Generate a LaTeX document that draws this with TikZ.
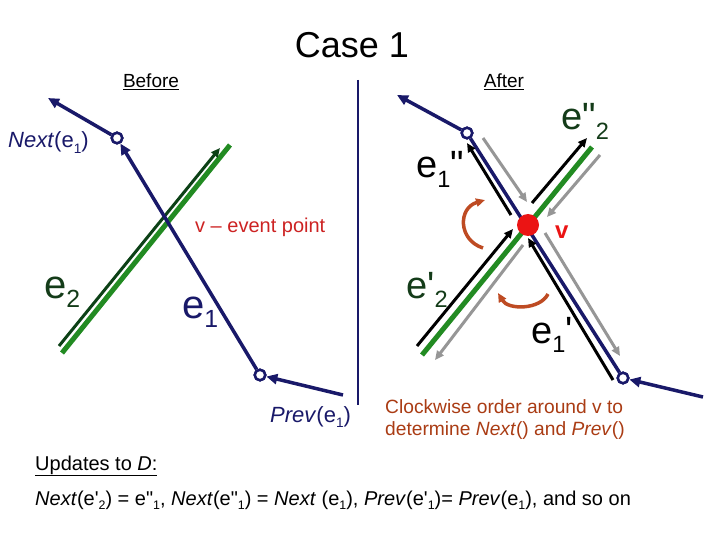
\documentclass[tikz,border=0pt]{standalone}
\usepackage{fontspec}
\usepackage{graphicx}
\setmainfont{Liberation Sans}
\usetikzlibrary{arrows.meta}
\definecolor{navy}{RGB}{25,25,105}
\definecolor{egreen}{RGB}{34,139,34}
\definecolor{dgreen}{RGB}{12,65,22}
\definecolor{lblgreen}{RGB}{20,60,25}
\definecolor{greyarr}{RGB}{150,150,150}
\definecolor{brownarr}{RGB}{190,75,35}
\definecolor{brtext}{RGB}{170,60,20}
\definecolor{vred}{RGB}{235,20,20}
\definecolor{evred}{RGB}{205,35,35}
\newcommand{\sq}{\textquotesingle}
\newcommand{\dq}{\textquotedbl}
\newcommand{\sbs}[1]{\raisebox{-0.24em}{\scalebox{0.62}{#1}}}
\begin{document}
\begin{tikzpicture}[x=1pt,y=-1pt,
  arrtip/.style={-{Triangle[length=9pt,width=8pt]}},
  bigtip/.style={-{Triangle[length=11pt,width=10pt]}},
  navyline/.style={draw=navy,line width=3.5pt},
  greenline/.style={draw=egreen,line width=5pt},
  blackarr/.style={draw=black,line width=3pt,arrtip},
  greyarr/.style={draw=greyarr,line width=3pt,arrtip},
  dgarr/.style={draw=dgreen,line width=3pt,arrtip},
  brownarc/.style={draw=brownarr,line width=3.5pt,arrtip},
  hollow/.style={circle,draw=navy,line width=2.5pt,fill=white,minimum size=10.5pt,inner sep=0pt},
  txt/.style={inner sep=0pt,anchor=base west},
  t20/.style={txt,font=\fontsize{20}{22}\selectfont},
  t22/.style={txt,font=\fontsize{22}{24}\selectfont},
  elab/.style={txt,font=\fontsize{40}{44}\selectfont},
  elabr/.style={txt,font=\fontsize{38}{42}\selectfont},
]
\useasboundingbox (0,0) rectangle (720,540);
\fill[white] (0,0) rectangle (720,540);

% title and headings
\node[inner sep=0pt,anchor=base,font=\fontsize{36}{40}\selectfont] (title) at (352,58) {Case 1};
\node[inner sep=0pt,anchor=base,font=\fontsize{19}{22}\selectfont] (before) at (151,88) {\underline{Before}};
\node[inner sep=0pt,anchor=base,font=\fontsize{19}{22}\selectfont] (after) at (504,88) {\underline{After}};

% separator
\coordinate (sepT) at (358,80);
\coordinate (sepB) at (358,405);
\draw[navy,line width=2.5pt] (sepT) -- (sepB);

% ---------- BEFORE ----------
\coordinate (nA) at (48,98);
\coordinate (pA) at (343,395);
\coordinate (g1a) at (62,353);
\coordinate (g1b) at (230,145);
\coordinate (d1a) at (59,346);
\coordinate (d1b) at (220,148);
\node[hollow] (c1) at (117,138) {};
\node[hollow] (c2) at (260,375) {};
\draw[greenline] (g1a) -- (g1b);
\draw[dgarr] (d1a) -- (d1b);
\draw[navyline,bigtip] (c1) -- (nA);
\draw[navyline,bigtip] (c2) -- (c1);
\draw[navyline,bigtip] (pA) -- (c2);
\node[hollow] at (c1) {};
\node[hollow] at (c2) {};

\node[t22,text=navy] (nextlbl) at (8,148) {\textit{Next}(e\sbs{1})};
\node[t22,text=navy] (prevlbl) at (270,422) {\textit{Prev}(e\sbs{1})};
\node[t20,text=evred] (evlbl) at (195,233) {v -- event point};
\node[elab,text=lblgreen] (e2lbl) at (44,298) {e\sbs{2}};
\node[elab,text=navy] (e1lbl) at (182,318) {e\sbs{1}};

% ---------- AFTER ----------
\coordinate (nA2) at (397,95);
\coordinate (pA2) at (703,397);
\coordinate (g2a) at (422,355);
\coordinate (g2b) at (592,147);
\node[hollow] (c3) at (467,133) {};
\node[hollow] (c4) at (623,378) {};
\draw[greenline] (g2a) -- (g2b);
\draw[navyline] (c3) -- (c4);
\draw[navyline,bigtip] (c3) -- (nA2);
\draw[navyline,bigtip] (pA2) -- (c4);

% half-edge arrows
\coordinate (b1a) at (511,215);  \coordinate (b1b) at (467,143);
\coordinate (r1a) at (483,138);  \coordinate (r1b) at (527,202);
\coordinate (b2a) at (532,203);  \coordinate (b2b) at (587,138);
\coordinate (r2a) at (600,155);  \coordinate (r2b) at (547,217);
\coordinate (b3a) at (417,346);  \coordinate (b3b) at (513,229);
\coordinate (r3a) at (523,245);  \coordinate (r3b) at (435,360);
\coordinate (b4a) at (613,380);  \coordinate (b4b) at (528,238);
\coordinate (r4a) at (545,233);  \coordinate (r4b) at (620,356);
\draw[blackarr] (b1a) -- (b1b);
\draw[greyarr] (r1a) -- (r1b);
\draw[blackarr] (b2a) -- (b2b);
\draw[greyarr] (r2a) -- (r2b);
\draw[blackarr] (b3a) -- (b3b);
\draw[greyarr] (r3a) -- (r3b);
\draw[blackarr] (b4a) -- (b4b);
\draw[greyarr] (r4a) -- (r4b);

\node[hollow] at (c3) {};
\node[hollow] at (c4) {};
\node[circle,fill=vred,minimum size=22pt,inner sep=0pt] (v) at (528,225) {};

% clockwise arcs
\coordinate (a1s) at (483,248); \coordinate (a1e) at (485,200);
\coordinate (a2s) at (548,294); \coordinate (a2e) at (498,293);
\draw[brownarc] (a1s) .. controls (458,240) and (458,208) .. (a1e);
\draw[brownarc] (a2s) .. controls (540,310) and (508,310) .. (a2e);

% labels
\node[txt,text=vred,font=\fontsize{24}{26}\selectfont\bfseries] (vlbl) at (555,239) {v};
\node[elabr,text=lblgreen] (e2pp) at (561,130) {e\dq\sbs{2}};
\node[elabr,text=black] (e1pp) at (416,178) {e\sbs{1}\dq};
\node[elabr,text=lblgreen] (e2p) at (406,298) {e\sq\sbs{2}};
\node[elabr,text=black] (e1p) at (531,343) {e\sbs{1}\sq};

\node[inner sep=0pt,anchor=base west,align=left,text=brtext,font=\fontsize{19.2}{22}\selectfont] (cw) at (385,435)
  {Clockwise order around v to\\determine \textit{Next}() and \textit{Prev}()};

% updates
\node[t20] (upd) at (35,470) {\underline{Updates to \textit{D}:}};
\node[t20] (form) at (35,505) {\textit{Next}(e\sq\sbs{2}) = e\dq\sbs{1}, \textit{Next}(e\dq\sbs{1}) = \textit{Next} (e\sbs{1}), \textit{Prev}(e\sq\sbs{1})= \textit{Prev}(e\sbs{1}), and so on};
\end{tikzpicture}
\end{document}
